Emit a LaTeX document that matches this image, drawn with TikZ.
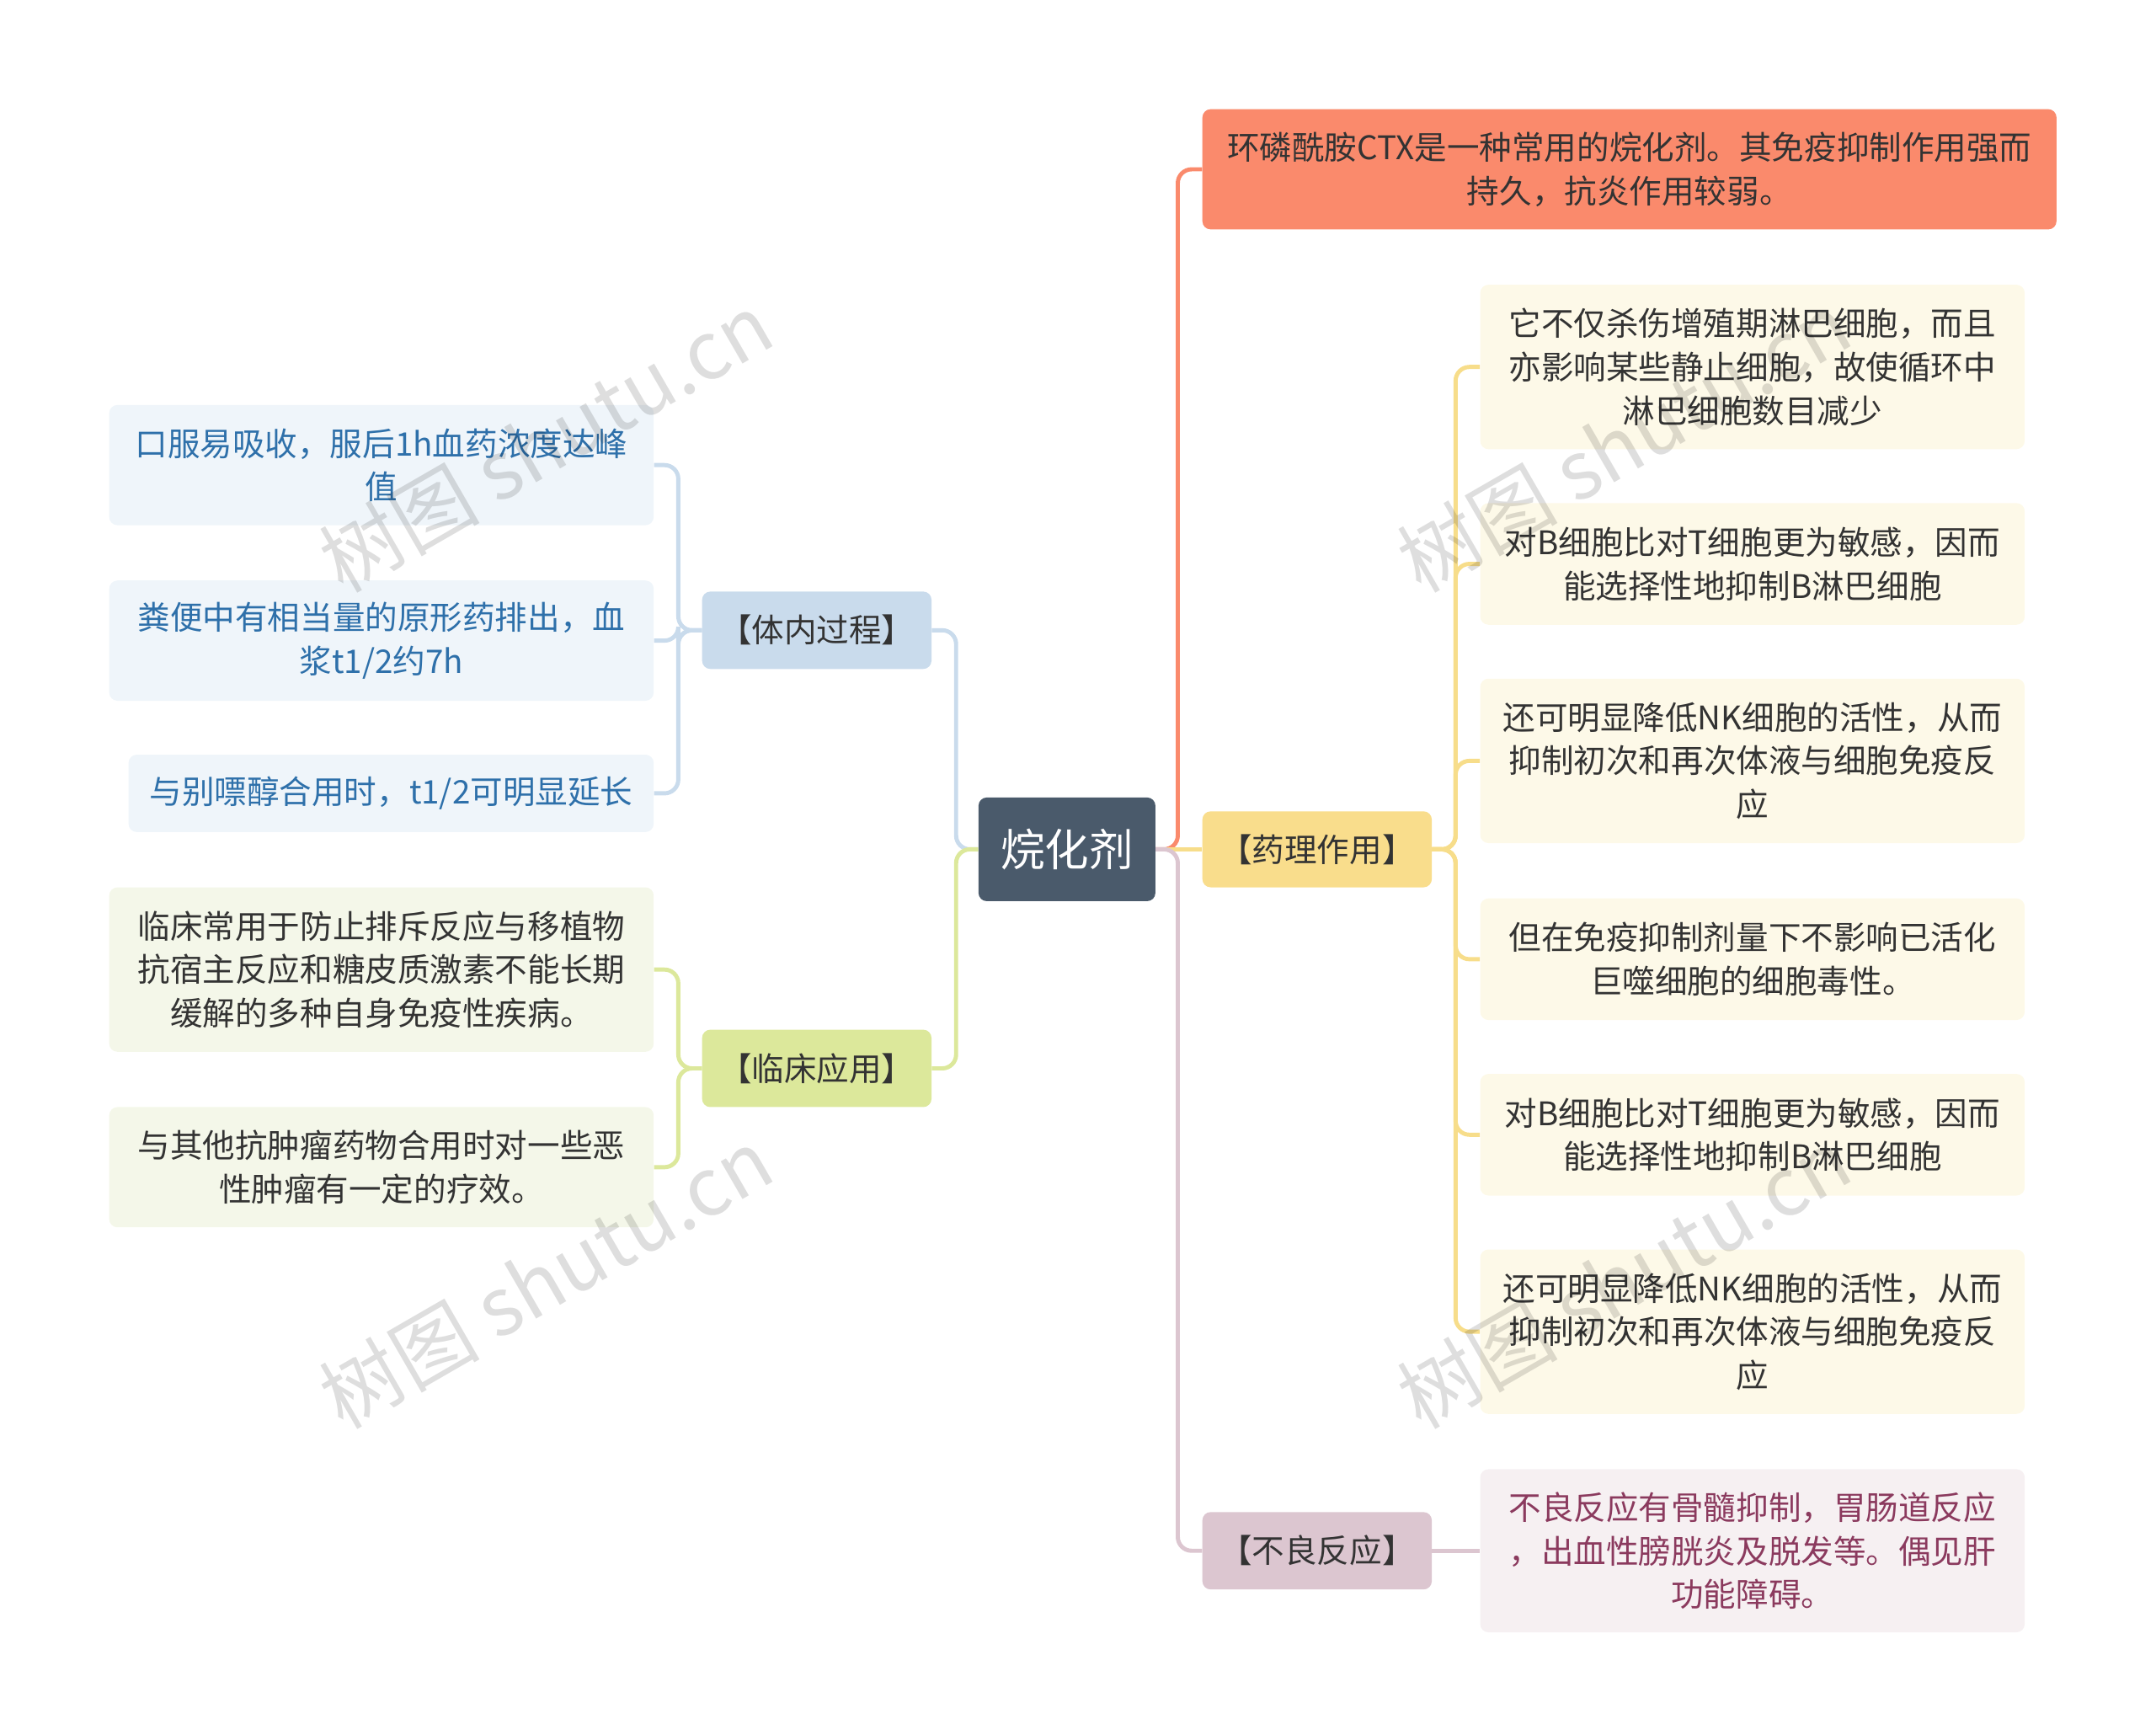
\documentclass[tikz,border=0pt]{standalone}
\usepackage{fontspec}
\setmainfont{Noto Sans CJK SC}
\usetikzlibrary{positioning}
\definecolor{cdark}{HTML}{4A5A6B}
\definecolor{csal}{HTML}{FA8A6C}
\definecolor{cyel}{HTML}{F9DD8C}
\definecolor{cyell}{HTML}{FDF9E8}
\definecolor{cyline}{HTML}{F7DD8A}
\definecolor{cmau}{HTML}{DCC6D0}
\definecolor{cmaul}{HTML}{F6F0F2}
\definecolor{cmaut}{HTML}{8B3A5E}
\definecolor{cblu}{HTML}{C9DBEC}
\definecolor{cblul}{HTML}{EFF5FA}
\definecolor{cblut}{HTML}{2E70AA}
\definecolor{cgre}{HTML}{DCE89B}
\definecolor{cgrel}{HTML}{F4F7E9}
\definecolor{ctxt}{HTML}{333333}
\tikzset{
 box/.style={rounded corners=6pt,inner sep=0pt,align=center,font=\fontsize{23.5}{31.5}\selectfont,text=ctxt},
 conn/.style={line width=3pt,rounded corners=10pt},
 wm/.style={text=black,text opacity=0.13,font=\fontsize{58}{60}\selectfont,rotate=30}
}
\begin{document}
\begin{tikzpicture}[x=1pt,y=-1pt]
\useasboundingbox (0,0) rectangle (1560,1255);
\newcommand{\bx}[7]{\node[box,fill=#5,text=#6,minimum width=#3-#1,minimum height=#4-#2] (#7) at ({(#1+#3)/2},{(#2+#4)/2}) {};}
\bx{708}{577}{836}{652}{cdark}{white}{c}
\node[text=white,font=\fontsize{32}{34}\selectfont] at (c) {烷化剂};
\bx{870}{79}{1488}{166}{csal}{ctxt}{t}
\node[box] at (t) {环磷酰胺CTX是一种常用的烷化剂。其免疫抑制作用强而\\持久，抗炎作用较弱。};
\bx{870}{587}{1036}{642}{cyel}{ctxt}{y}
\node[box] at (y) {【药理作用】};
\bx{870}{1094}{1036}{1150}{cmau}{ctxt}{m}
\node[box] at (m) {【不良反应】};
\bx{508}{428}{674}{484}{cblu}{ctxt}{b}
\node[box] at (b) {【体内过程】};
\bx{508}{745}{674}{801}{cgre}{ctxt}{g}
\node[box] at (g) {【临床应用】};
\bx{1071}{206}{1465}{325}{cyell}{ctxt}{y1}
\node[box] at (y1) {它不仅杀伤增殖期淋巴细胞，而且\\亦影响某些静止细胞，故使循环中\\淋巴细胞数目减少};
\bx{1071}{364}{1465}{452}{cyell}{ctxt}{y2}
\node[box] at (y2) {对B细胞比对T细胞更为敏感，因而\\能选择性地抑制B淋巴细胞};
\bx{1071}{491}{1465}{610}{cyell}{ctxt}{y3}
\node[box] at (y3) {还可明显降低NK细胞的活性，从而\\抑制初次和再次体液与细胞免疫反\\应};
\bx{1071}{650}{1465}{738}{cyell}{ctxt}{y4}
\node[box] at (y4) {但在免疫抑制剂量下不影响已活化\\巨噬细胞的细胞毒性。};
\bx{1071}{777}{1465}{865}{cyell}{ctxt}{y5}
\node[box] at (y5) {对B细胞比对T细胞更为敏感，因而\\能选择性地抑制B淋巴细胞};
\bx{1071}{904}{1465}{1023}{cyell}{ctxt}{y6}
\node[box] at (y6) {还可明显降低NK细胞的活性，从而\\抑制初次和再次体液与细胞免疫反\\应};
\bx{1071}{1063}{1465}{1181}{cmaul}{ctxt}{m1}
\node[box,text=cmaut] at (m1) {不良反应有骨髓抑制，胃肠道反应\\，出血性膀胱炎及脱发等。偶见肝\\功能障碍。};
\bx{79}{293}{473}{380}{cblul}{ctxt}{b1}
\node[box,text=cblut] at (b1) {口服易吸收，服后1h血药浓度达峰\\值};
\bx{79}{420}{473}{507}{cblul}{ctxt}{b2}
\node[box,text=cblut] at (b2) {粪便中有相当量的原形药排出，血\\浆t1/2约7h};
\bx{93}{546}{473}{602}{cblul}{ctxt}{b3}
\node[box,text=cblut] at (b3) {与别嘌醇合用时，t1/2可明显延长};
\bx{79}{642}{473}{761}{cgrel}{ctxt}{g1}
\node[box] at (g1) {临床常用于防止排斥反应与移植物\\抗宿主反应和糖皮质激素不能长期\\缓解的多种自身免疫性疾病。};
\bx{79}{801}{473}{888}{cgrel}{ctxt}{g2}
\node[box] at (g2) {与其他抗肿瘤药物合用时对一些恶\\性肿瘤有一定的疗效。};
% connectors
\draw[conn,csal] (c.east) -- ++(16,0) |- (t.west);
\draw[conn,cyline] (c.east) -- (y.west);
\draw[conn,cmau] (c.east) -- ++(16,0) |- (m.west);
\draw[conn,cblu] (c.west) -- ++(-16,0) |- (b.east);
\draw[conn,cgre] (c.west) -- ++(-16,0) |- (g.east);
\foreach \n in {y1,y2,y3,y4,y5,y6} \draw[conn,cyline] (y.east) -- ++(17,0) |- (\n.west);
\draw[conn,cmau] (m.east) -- (m1.west |- m.east);
\foreach \n in {b1,b2,b3} \draw[conn,cblu] (b.west) -- ++(-17,0) |- (\n.east);
\foreach \n in {g1,g2} \draw[conn,cgre] (g.west) -- ++(-17,0) |- (\n.east);
% watermarks
\node[wm] (w1) at (395,320) {树图 shutu.cn};
\node[wm] (w2) at (395,925) {树图 shutu.cn};
\node[wm] (w3) at (1175,320) {树图 shutu.cn};
\node[wm] (w4) at (1175,925) {树图 shutu.cn};
\end{tikzpicture}
\end{document}
